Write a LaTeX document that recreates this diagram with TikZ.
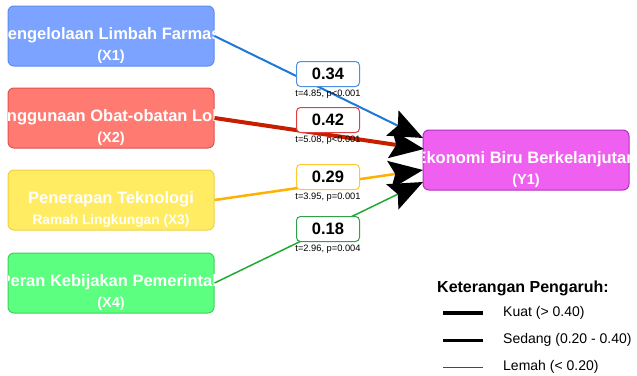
\documentclass[tikz,border=0pt]{standalone}
\usepackage{fontspec}
\setmainfont{Liberation Sans}
\usetikzlibrary{arrows.meta}
\definecolor{bfill}{HTML}{7BA3FF}\definecolor{bdraw}{HTML}{5C8CF0}\definecolor{bline}{HTML}{1F78D8}
\definecolor{rfill}{HTML}{FF7B72}\definecolor{rdraw}{HTML}{E25050}\definecolor{rline}{HTML}{C81E00}
\definecolor{yfill}{HTML}{FFEC62}\definecolor{ydraw}{HTML}{F2D040}\definecolor{yline}{HTML}{FFB000}
\definecolor{gfill}{HTML}{5CFF80}\definecolor{gdraw}{HTML}{3FD060}\definecolor{gline}{HTML}{22AA33}
\definecolor{mfill}{HTML}{F060F0}\definecolor{mdraw}{HTML}{B030C0}
\definecolor{lblue}{HTML}{4A90E2}\definecolor{lred}{HTML}{E04040}\definecolor{lyel}{HTML}{FFC830}\definecolor{lgrn}{HTML}{30A050}
\definecolor{navy}{HTML}{33449A}
\tikzset{
  varbox/.style={draw, line width=1pt, rounded corners=6pt, minimum width=206pt, minimum height=60pt, inner sep=0pt},
  boxtxt/.style={text=white, font=\bfseries\fontsize{16.5}{18}\selectfont, inner sep=0pt},
  boxsub/.style={text=white, font=\bfseries\fontsize{14.5}{16}\selectfont, inner sep=0pt},
  boxsubs/.style={text=white, font=\bfseries\fontsize{13.7}{15}\selectfont, inner sep=0pt},
  coef/.style={draw, fill=white, line width=1pt, rounded corners=4pt, minimum width=63pt, minimum height=25pt, inner sep=0pt, font=\bfseries\fontsize{16.5}{18}\selectfont},
  stat/.style={inner sep=0pt, font=\fontsize{9.3}{10}\selectfont},
  path/.style={-{Stealth[length=34pt,width=28pt,inset=6pt,black]}},
  legtxt/.style={anchor=west, inner sep=0pt, font=\fontsize{14}{16}\selectfont},
}
\begin{document}
\begin{tikzpicture}[x=1pt,y=-1pt]
\useasboundingbox (0,0) rectangle (637,375);
% boxes
\node[varbox, fill=bfill, draw=bdraw] (x1) at (111,36) {};
\node[varbox, fill=rfill, draw=rdraw] (x2) at (111,118) {};
\node[varbox, fill=yfill, draw=ydraw] (x3) at (111,200) {};
\node[varbox, fill=gfill, draw=gdraw] (x4) at (111,283) {};
\node[varbox, fill=mfill, draw=mdraw] (y1) at (526,160) {};
\begin{scope}
\clip[rounded corners=6pt] (x1.south west) rectangle (x1.north east);
\node[boxtxt] (x1a) at (111,35) {Pengelolaan Limbah Farmasi};
\node[boxsub] (x1b) at (111,57) {(X1)};
\end{scope}
\begin{scope}
\clip[rounded corners=6pt] (x2.south west) rectangle (x2.north east);
\node[boxtxt] (x2a) at (111,117) {Penggunaan Obat-obatan Lokal};
\node[boxsub] (x2b) at (111,139) {(X2)};
\end{scope}
\begin{scope}
\clip[rounded corners=6pt] (x3.south west) rectangle (x3.north east);
\node[boxtxt] (x3a) at (111,199) {Penerapan Teknologi};
\node[boxsubs] (x3b) at (111,221) {Ramah Lingkungan (X3)};
\end{scope}
\begin{scope}
\clip[rounded corners=6pt] (x4.south west) rectangle (x4.north east);
\node[boxtxt] (x4a) at (111,282) {Peran Kebijakan Pemerintah};
\node[boxsub] (x4b) at (111,304) {(X4)};
\end{scope}
\begin{scope}
\clip[rounded corners=6pt] (y1.south west) rectangle (y1.north east);
\node[boxtxt] (y1a) at (526,159) {Ekonomi Biru Berkelanjutan};
\node[boxsub] (y1b) at (526,181) {(Y1)};
\end{scope}
% arrow ends
\coordinate (e1) at (423,138);
\coordinate (e2) at (424,149);
\coordinate (e3) at (423,170);
\coordinate (e4) at (423,182);
\draw[path, bline, line width=2pt] (x1.east) -- (e1);
\draw[path, rline, line width=4pt] (x2.east) -- (e2);
\draw[path, yline, line width=2.5pt] (x3.east) -- (e3);
\draw[path, gline, line width=1.5pt] (x4.east) -- (e4);
% coefficient labels
\node[coef, draw=lblue] (c1) at (328,74) {0.34};
\node[stat] (s1) at (328,94) {t=4.85, p<0.001};
\node[coef, draw=lred] (c2) at (328,120) {0.42};
\node[stat] (s2) at (328,140) {t=5.08, p<0.001};
\node[coef, draw=lyel] (c3) at (328,177) {0.29};
\node[stat] (s3) at (328,197) {t=3.95, p=0.001};
\node[coef, draw=lgrn] (c4) at (328,229) {0.18};
\node[stat] (s4) at (328,249) {t=2.96, p=0.004};
% legend
\node[anchor=west, inner sep=0pt, font=\bfseries\fontsize{16}{18}\selectfont] (lt) at (437,288) {Keterangan Pengaruh:};
\coordinate (k1) at (443,313); \coordinate (k2) at (483,313);
\coordinate (m1) at (443,340); \coordinate (m2) at (483,340);
\coordinate (w1) at (443,367); \coordinate (w2) at (483,367);
\draw[line width=4pt] (k1) -- (k2);
\draw[line width=3pt] (m1) -- (m2);
\draw[line width=1pt, navy] (w1) -- (w2);
\node[legtxt] (lk) at (503,313) {Kuat (> 0.40)};
\node[legtxt] (lm) at (503,340) {Sedang (0.20 - 0.40)};
\node[legtxt] (lw) at (503,367) {Lemah (< 0.20)};
\end{tikzpicture}
\end{document}
